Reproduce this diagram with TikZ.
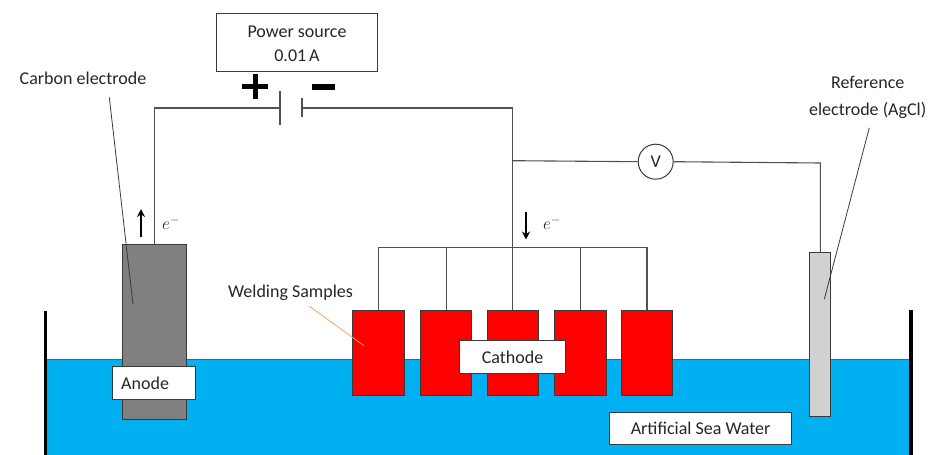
\documentclass[tikz,border=0pt]{standalone}
\usepackage{fontspec}
\setmainfont{Carlito}
\definecolor{wire}{HTML}{505050}
\definecolor{edge}{HTML}{3A3A3A}
\definecolor{sea}{HTML}{00B0F0}
\definecolor{txt}{HTML}{262626}
\definecolor{samplered}{HTML}{FF0000}
\definecolor{leaderorange}{HTML}{F4A460}
\tikzset{
  lbl/.style={font=\fontsize{18}{21}\selectfont, text=txt, inner sep=0pt, align=center},
  wirepath/.style={draw=wire, line width=1.1pt},
  leader/.style={draw=edge, line width=0.8pt},
  labelbox/.style={draw=edge, fill=white, line width=1pt, inner sep=0pt, lbl},
  sample/.style={draw=edge, fill=samplered, line width=1pt, inner sep=0pt, minimum width=51.5pt, minimum height=85pt},
  wall/.style={draw=black, line width=3.6pt},
  flow/.style={-{Stealth[length=8pt,width=8pt]}, draw=black, line width=2.2pt},
  sign/.style={draw=black, line width=5pt},
  plate/.style={draw=wire, line width=1.1pt},
  emath/.style={font=\fontsize{18}{21}\selectfont, text=txt, inner sep=0pt}
}
\usetikzlibrary{arrows.meta}
\begin{document}
\begin{tikzpicture}[x=1pt,y=-1pt]
\useasboundingbox (0,0) rectangle (938,455);
% water and tank
\fill[sea] (47,359.5) rectangle (909,455);
\draw[draw=wire!70!sea, line width=0.7pt] (47,359.5) -- (909,359.5);
\coordinate (wallLt) at (45.4,310.5);
\coordinate (wallLb) at (45.4,455);
\coordinate (wallRt) at (910.7,310);
\coordinate (wallRb) at (910.7,455);
\draw[wall] (wallLt) -- (wallLb);
\draw[wall] (wallRt) -- (wallRb);
% electrodes
\node[draw=edge, fill=black!50, line width=1pt, inner sep=0pt, minimum width=64pt, minimum height=174.6pt] (anode) at (154.3,332) {};
\node[draw=edge, fill=black!18, line width=1pt, inner sep=0pt, minimum width=20.7pt, minimum height=164.3pt] (refel) at (820.3,334.8) {};
\node[sample] (s1) at (378.5,352.6) {};
\node[sample] (s2) at (446.2,352.6) {};
\node[sample] (s3) at (512.9,352.6) {};
\node[sample] (s4) at (580.5,352.6) {};
\node[sample] (s5) at (647,352.6) {};
% power source
\node[draw=edge, fill=white, line width=1pt, minimum width=161.5pt, minimum height=58.5pt, inner sep=0pt] (power) at (297.2,42.7) {};
\node[lbl] (powerA) at (297,32) {Power source};
\node[lbl] (powerB) at (297,56) {0.01\,A};
% battery
\coordinate (plateLt) at (280,91);
\coordinate (plateLb) at (280,125);
\coordinate (plateRt) at (302,98);
\coordinate (plateRb) at (302,117);
\coordinate (plateL) at (280,108);
\coordinate (plateR) at (302,108);
\draw[plate] (plateLt) -- (plateLb);
\draw[plate] (plateRt) -- (plateRb);
% signs
\coordinate (plusW) at (242,86);
\coordinate (plusE) at (268,86);
\coordinate (plusN) at (255,74);
\coordinate (plusS) at (255,98.5);
\coordinate (minusW) at (312,86.5);
\coordinate (minusE) at (334.5,86.5);
\draw[sign] (plusW) -- (plusE);
\draw[sign] (plusN) -- (plusS);
\draw[sign, line width=6pt] (minusW) -- (minusE);
% wires
\coordinate (bus) at (513,247.7);
\coordinate (tapV) at (513,160.7);
\coordinate (refcorner) at (820.3,163);
\node[draw=edge, fill=white, circle, line width=1pt, minimum size=35pt, inner sep=0pt, lbl] (volt) at (655.7,161.7) {V};
\draw[wirepath] (plateL) -| (anode.north);
\draw[wirepath] (plateR) -| (s3.north);
\draw[wirepath] (s1.north) |- (bus) -| (s5.north);
\draw[wirepath] (s2.north) -- (s2.north |- bus);
\draw[wirepath] (s4.north) -- (s4.north |- bus);
\draw[wirepath] (tapV) -- (volt.west);
\draw[wirepath] (volt.east) -- (refcorner) -- (refel.north);
% electron flow
\coordinate (upA) at (141,237);
\coordinate (upB) at (141,209);
\coordinate (dnA) at (526,212);
\coordinate (dnB) at (526,239.5);
\draw[flow] (upA) -- (upB);
\draw[flow] (dnA) -- (dnB);
\node[emath] (eup) at (171,223) {$e^{-}$};
\node[emath] (edn) at (552,223) {$e^{-}$};
% leaders
\node[lbl] (carbon) at (83,78) {Carbon electrode};
\node[lbl] (weld) at (290.5,293) {Welding Samples};
\node[lbl] (ref) at (867.7,97.5) {Reference\\[5.5pt]electrode (AgCl)};
\coordinate (carbonEnd) at (109.3,97.3);
\coordinate (carbonTip) at (133,304.3);
\coordinate (refEnd) at (869.3,127.7);
\coordinate (refTip) at (824.3,299.3);
\coordinate (weldEnd) at (309,306);
\coordinate (weldTip) at (364,345.7);
\draw[leader] (carbonEnd) -- (carbonTip);
\draw[leader] (refEnd) -- (refTip);
\draw[draw=leaderorange, line width=0.8pt] (weldEnd) -- (weldTip);
% labels
\node[labelbox, minimum width=83pt, minimum height=33.3pt] (anodeBox) at (153.8,383.3) {};
\node[lbl, anchor=west] (anodeTxt) at (121,383) {Anode};
\node[labelbox, minimum width=106.2pt, minimum height=33pt] (cathBox) at (512.6,357.2) {Cathode};
\node[labelbox, minimum width=181.3pt, minimum height=32.3pt] (seaBox) at (700.6,428.2) {Artificial Sea Water};
\end{tikzpicture}
\end{document}
